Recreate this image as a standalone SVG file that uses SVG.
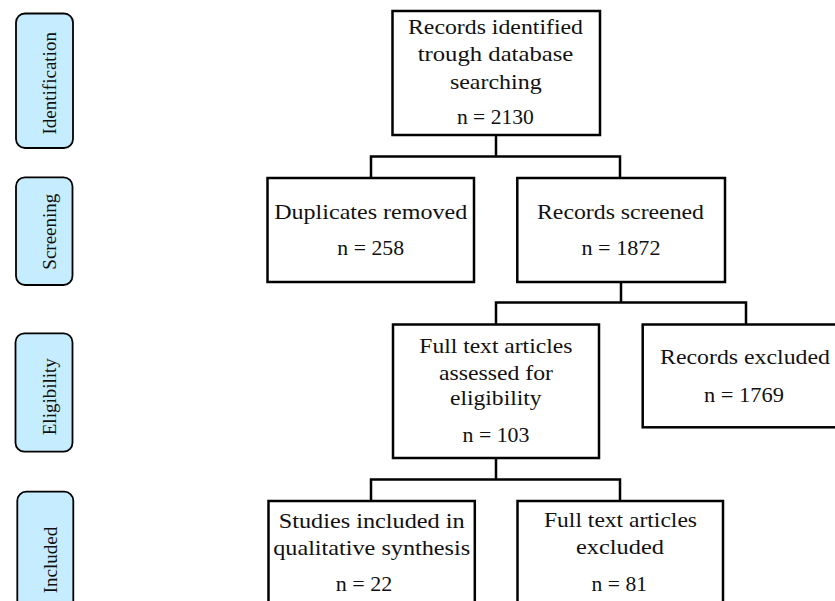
<svg xmlns="http://www.w3.org/2000/svg" width="835" height="601" viewBox="0 0 835 601">
<style>
.box{fill:#ffffff;stroke:#000000;stroke-width:2.5}
.stage{fill:#c6edff;stroke:#000000;stroke-width:1.8}
.t{font-family:"Liberation Serif","Times New Roman",serif;font-size:22px;fill:#111111;text-anchor:middle}
.s{font-family:"Liberation Serif","Times New Roman",serif;font-size:19px;fill:#111111;text-anchor:middle}
.c{fill:none;stroke:#000000;stroke-width:2.5}
</style>
<rect width="835" height="601" fill="#ffffff"/>
<g id="stage-identification">
<rect class="stage" x="16" y="13.5" width="57" height="134.5" rx="9"/>
<text class="s" transform="translate(56,83.3) rotate(-90)">Identification</text>
</g>
<g id="stage-screening">
<rect class="stage" x="16" y="177.3" width="56.5" height="107.7" rx="9"/>
<text class="s" transform="translate(56,231.7) rotate(-90)">Screening</text>
</g>
<g id="stage-eligibility">
<rect class="stage" x="15.5" y="333.3" width="57" height="118.4" rx="9"/>
<text class="s" transform="translate(56,396.7) rotate(-90)">Eligibility</text>
</g>
<g id="stage-included">
<rect class="stage" x="17.3" y="491.7" width="56" height="140" rx="9"/>
<text class="s" transform="translate(56.5,560) rotate(-90)">Included</text>
</g>
<g id="connectors">
<path class="c" d="M496 135 V156.5 M371 178 V156.5 H620 V178"/>
<path class="c" d="M621 282 V302.5 M496 324.5 V302.5 H746 V324.5"/>
<path class="c" d="M496 458 V479.5 M371 501 V479.5 H620 V501"/>
</g>
<g id="records-identified">
<rect class="box" x="392.5" y="11" width="207.5" height="124"/>
<text class="t" x="495.5" y="34.3" textLength="175" lengthAdjust="spacingAndGlyphs">Records identified</text>
<text class="t" x="495.5" y="61" textLength="155.6" lengthAdjust="spacingAndGlyphs">trough database</text>
<text class="t" x="495.8" y="89" textLength="91.7" lengthAdjust="spacingAndGlyphs">searching</text>
<text class="t" x="495.4" y="124.3" textLength="77" lengthAdjust="spacingAndGlyphs">n = 2130</text>
</g>
<g id="duplicates-removed">
<rect class="box" x="267.5" y="178" width="206.5" height="104"/>
<text class="t" x="370.7" y="219.3" textLength="193" lengthAdjust="spacingAndGlyphs">Duplicates removed</text>
<text class="t" x="370.7" y="255" textLength="66.7" lengthAdjust="spacingAndGlyphs">n = 258</text>
</g>
<g id="records-screened">
<rect class="box" x="517.3" y="178" width="207.7" height="104"/>
<text class="t" x="620.5" y="219.3" textLength="167" lengthAdjust="spacingAndGlyphs">Records screened</text>
<text class="t" x="621" y="255" textLength="79" lengthAdjust="spacingAndGlyphs">n = 1872</text>
</g>
<g id="full-text-assessed">
<rect class="box" x="393" y="324.5" width="206" height="133.5"/>
<text class="t" x="495.8" y="353.3" textLength="153" lengthAdjust="spacingAndGlyphs">Full text articles</text>
<text class="t" x="496" y="380" textLength="114" lengthAdjust="spacingAndGlyphs">assessed for</text>
<text class="t" x="495.8" y="405" textLength="91.7" lengthAdjust="spacingAndGlyphs">eligibility</text>
<text class="t" x="496" y="442.3" textLength="67" lengthAdjust="spacingAndGlyphs">n = 103</text>
</g>
<g id="records-excluded">
<rect class="box" x="642.7" y="324.5" width="206" height="102.8"/>
<text class="t" x="745" y="364" textLength="170" lengthAdjust="spacingAndGlyphs">Records excluded</text>
<text class="t" x="744" y="401.7" textLength="80" lengthAdjust="spacingAndGlyphs">n = 1769</text>
</g>
<g id="studies-included">
<rect class="box" x="268.5" y="501" width="206.3" height="120"/>
<text class="t" x="371.7" y="528.3" textLength="186" lengthAdjust="spacingAndGlyphs">Studies included in</text>
<text class="t" x="371.7" y="555" textLength="197" lengthAdjust="spacingAndGlyphs">qualitative synthesis</text>
<text class="t" x="364" y="591" textLength="56.6" lengthAdjust="spacingAndGlyphs">n = 22</text>
</g>
<g id="full-text-excluded">
<rect class="box" x="517.5" y="501" width="205.5" height="120"/>
<text class="t" x="620.5" y="527.3" textLength="153" lengthAdjust="spacingAndGlyphs">Full text articles</text>
<text class="t" x="620" y="554" textLength="88" lengthAdjust="spacingAndGlyphs">excluded</text>
<text class="t" x="619.3" y="591" textLength="55.4" lengthAdjust="spacingAndGlyphs">n = 81</text>
</g>
</svg>
